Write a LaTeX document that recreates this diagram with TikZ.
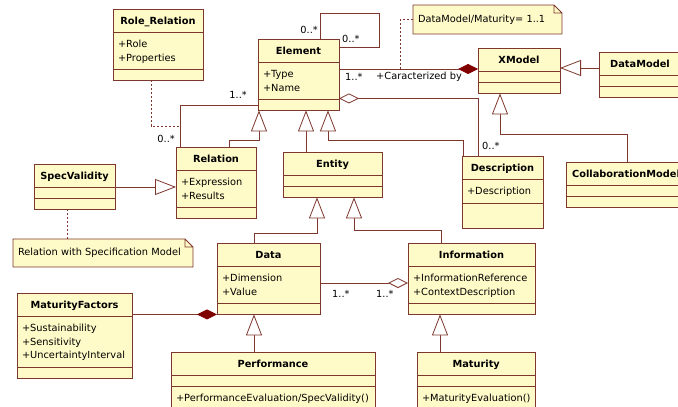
\documentclass[tikz,border=0pt]{standalone}
\usepackage{fontspec}
\setmainfont{DejaVu Sans}
\usetikzlibrary{arrows.meta, calc, shapes.multipart}

\definecolor{umlfill}{RGB}{255,251,200}
\definecolor{umlline}{RGB}{125,55,45}
\definecolor{umldark}{RGB}{128,0,0}

\newcommand{\clsname}[1]{\rule[-7.5pt]{0pt}{23pt}\textbf{#1}}
\newcommand{\clsempty}[1][10pt]{\rule{0pt}{#1}}
\newcommand{\clsattrs}[2][4.5pt]{\vbox{\offinterlineskip\vskip4.5pt#2\vskip#1}}
\newcommand{\clsattr}[1]{\hbox{\rule[-3.5pt]{0pt}{13.5pt}#1}}

\begin{document}
\begin{tikzpicture}[x=1pt, y=-1pt, font=\fontsize{9.8}{11}\selectfont,
    cls/.style={rectangle split, rectangle split parts=3,
        rectangle split part align={center,left,left},
        draw=umlline, fill=umlfill, line width=0.8pt,
        inner xsep=5pt, inner ysep=0pt, outer sep=0pt, anchor=north west},
    note/.style={fill=umlfill, inner xsep=5pt, inner ysep=0pt, outer sep=0pt,
        anchor=north west, align=left},
    mult/.style={inner sep=0pt},
    link/.style={draw=umlline, line width=0.8pt},
    notelink/.style={link, dash pattern=on 2pt off 2pt},
    gen/.style={link, -{Triangle[length=21pt, width=16pt, fill=white]}},
    aggr/.style={link, {Diamond[length=20pt, width=10pt, fill=white]}-},
    comp/.style={link, {Diamond[length=20pt, width=10pt, fill=umldark, color=umldark]}-}]

    \useasboundingbox (0,0) rectangle (678,407);

    \node[cls, minimum width=90pt] (rolerel) at (113,9) {\clsname{Role\_Relation}%
        \nodepart{second}\clsattrs{\clsattr{+Role}\clsattr{+Properties}}%
        \nodepart{third}\clsempty};
    \node[cls, minimum width=81pt] (element) at (258,39) {\clsname{Element}%
        \nodepart{second}\clsattrs{\clsattr{+Type}\clsattr{+Name}}%
        \nodepart{third}\clsempty};
    \node[cls, minimum width=82pt] (xmodel) at (478,48) {\clsname{XModel}%
        \nodepart{second}\clsempty\nodepart{third}\clsempty};
    \node[cls, minimum width=82pt] (datamodel) at (599,52) {\clsname{DataModel}%
        \nodepart{second}\clsempty\nodepart{third}\clsempty};
    \node[cls, minimum width=120pt] (collab) at (566,162) {\clsname{CollaborationModel}%
        \nodepart{second}\clsempty\nodepart{third}\clsempty};
    \node[cls, minimum width=81pt] (descr) at (462,156) {\clsname{Description}%
        \nodepart{second}\clsattrs{\clsattr{+Description}}%
        \nodepart{third}\clsempty[24pt]};
    \node[cls, minimum width=80pt] (relation) at (176,147) {\clsname{Relation}%
        \nodepart{second}\clsattrs{\clsattr{+Expression}\clsattr{+Results}}%
        \nodepart{third}\clsempty};
    \node[cls, minimum width=99pt] (entity) at (283,152) {\clsname{Entity}%
        \nodepart{second}\clsempty\nodepart{third}\clsempty};
    \node[cls, minimum width=81pt] (spec) at (34,164) {\clsname{SpecValidity}%
        \nodepart{second}\clsempty\nodepart{third}\clsempty};
    \node[cls, minimum width=103pt] (data) at (217,243) {\clsname{Data}%
        \nodepart{second}\clsattrs{\clsattr{+Dimension}\clsattr{+Value}}%
        \nodepart{third}\clsempty};
    \node[cls, minimum width=127pt] (info) at (408,243) {\clsname{Information}%
        \nodepart{second}\clsattrs{\clsattr{+InformationReference}\clsattr{+ContextDescription}}%
        \nodepart{third}\clsempty};
    \node[cls, minimum width=115pt] (matfac) at (17,293) {\clsname{MaturityFactors}%
        \nodepart{second}\clsattrs{\clsattr{+Sustainability}\clsattr{+Sensitivity}\clsattr{+UncertaintyInterval}}%
        \nodepart{third}\clsempty};
    \node[cls, minimum width=204pt] (perf) at (171,352) {\clsname{Performance}%
        \nodepart{second}\clsempty%
        \nodepart{third}\clsattrs[12pt]{\clsattr{+PerformanceEvaluation/SpecValidity()}}};
    \node[cls, minimum width=118pt] (maturity) at (417,352) {\clsname{Maturity}%
        \nodepart{second}\clsempty%
        \nodepart{third}\clsattrs[12pt]{\clsattr{+MaturityEvaluation()}}};

    % notes
    \node[note, text width=139pt, minimum height=29pt] (dmnote) at (413,5) {DataModel/Maturity= 1..1};
    \fill[white] ([xshift=-8pt]dmnote.north east) -- (dmnote.north east) -- ([yshift=-8pt]dmnote.north east) -- cycle;
    \draw[link] (dmnote.north west) -- ([xshift=-8pt]dmnote.north east) -- ([yshift=-8pt]dmnote.north east)
        -- (dmnote.south east) -- (dmnote.south west) -- cycle
        ([xshift=-8pt]dmnote.north east) |- ([yshift=-8pt]dmnote.north east);
    \node[note, text width=170pt, minimum height=28pt] (specnote) at (13,239) {Relation with Specification Model};
    \fill[white] ([xshift=-8pt]specnote.north east) -- (specnote.north east) -- ([yshift=-8pt]specnote.north east) -- cycle;
    \draw[link] (specnote.north west) -- ([xshift=-8pt]specnote.north east) -- ([yshift=-8pt]specnote.north east)
        -- (specnote.south east) -- (specnote.south west) -- cycle
        ([xshift=-8pt]specnote.north east) |- ([yshift=-8pt]specnote.north east);

    % Element self association
    \draw[link] ($(element.north west)+(62,0)$) |- ($(element.north east)+(40,-26)$) |- ($(element.north east)+(0,8)$);
    \node[mult, anchor=east] (m1) at (318,30) {0..*};
    \node[mult, anchor=west] (m2) at (342,39) {0..*};

    % Element -- XModel
    \draw[notelink] (dmnote.west) -| ($(xmodel.north west)+(-78,21)$);
    \draw[comp] ($(xmodel.north west)+(0,21)$) coordinate (cz) -- (cz -| element.east);
    \node[mult, anchor=west] (m3) at (345,77) {1..*};
    \node[mult, anchor=west] (role1) at (376,77) {+Caracterized by};

    \draw[gen] ($(datamodel.north west)+(0,16)$) coordinate (gd) -- (gd -| xmodel.east);
    \draw[gen] ($(collab.north west)+(61,0)$) |- ($(xmodel.south west)+(22,41)$) -- ($(xmodel.south west)+(22,0)$);

    % Element -- Description
    \draw[aggr] ($(element.south east)+(0,-12)$) -| ($(descr.north west)+(16,0)$);
    \node[mult, anchor=west] (m4) at (482,146) {0..*};

    % Element -- Relation
    \draw[link] ($(element.south west)+(0,-5)$) -| ($(relation.north west)+(4,0)$);
    \node[mult, anchor=east] (m5) at (247,95) {1..*};
    \node[mult, anchor=east] (m6) at (175,139) {0..*};
    \draw[notelink] ($(rolerel.south west)+(38,0)$) |- ($(relation.north west)+(4,-21)$);

    % subclasses of Element
    \draw[gen] ($(relation.north west)+(53,0)$) |- ($(element.south west)+(1,30)$) -- ($(element.south west)+(1,0)$);
    \draw[gen] ($(entity.north west)+(23,0)$) -- ($(element.south west)+(48,0)$);
    \draw[gen] ($(descr.north west)+(1,0)$) |- ($(element.south west)+(70,30)$) -- ($(element.south west)+(70,0)$);

    \draw[gen] ($(spec.north east)+(0,23)$) coordinate (gs) -- (gs -| relation.west);
    \draw[notelink] ($(spec.south west)+(33,0)$) coordinate (ds) -- (ds |- specnote.north);

    % subclasses of Entity
    \draw[gen] ($(data.north west)+(37,0)$) |- ($(entity.south west)+(34,36)$) -- ($(entity.south west)+(34,0)$);
    \draw[gen] ($(info.north west)+(33,0)$) |- ($(entity.south west)+(71,33)$) -- ($(entity.south west)+(71,0)$);

    % Data -- Information
    \draw[aggr] ($(info.north west)+(0,40)$) coordinate (ai) -- (ai -| data.east);
    \node[mult, anchor=west] (m7) at (332,294) {1..*};
    \node[mult, anchor=west] (m8) at (376,294) {1..*};

    \draw[comp] (data.south west) -- (data.south west -| matfac.east);

    \draw[gen] ($(perf.north west)+(83,0)$) -- ($(data.south west)+(37,0)$);
    \draw[gen] ($(maturity.north west)+(23,0)$) -- ($(info.south west)+(32,0)$);

\end{tikzpicture}
\end{document}
